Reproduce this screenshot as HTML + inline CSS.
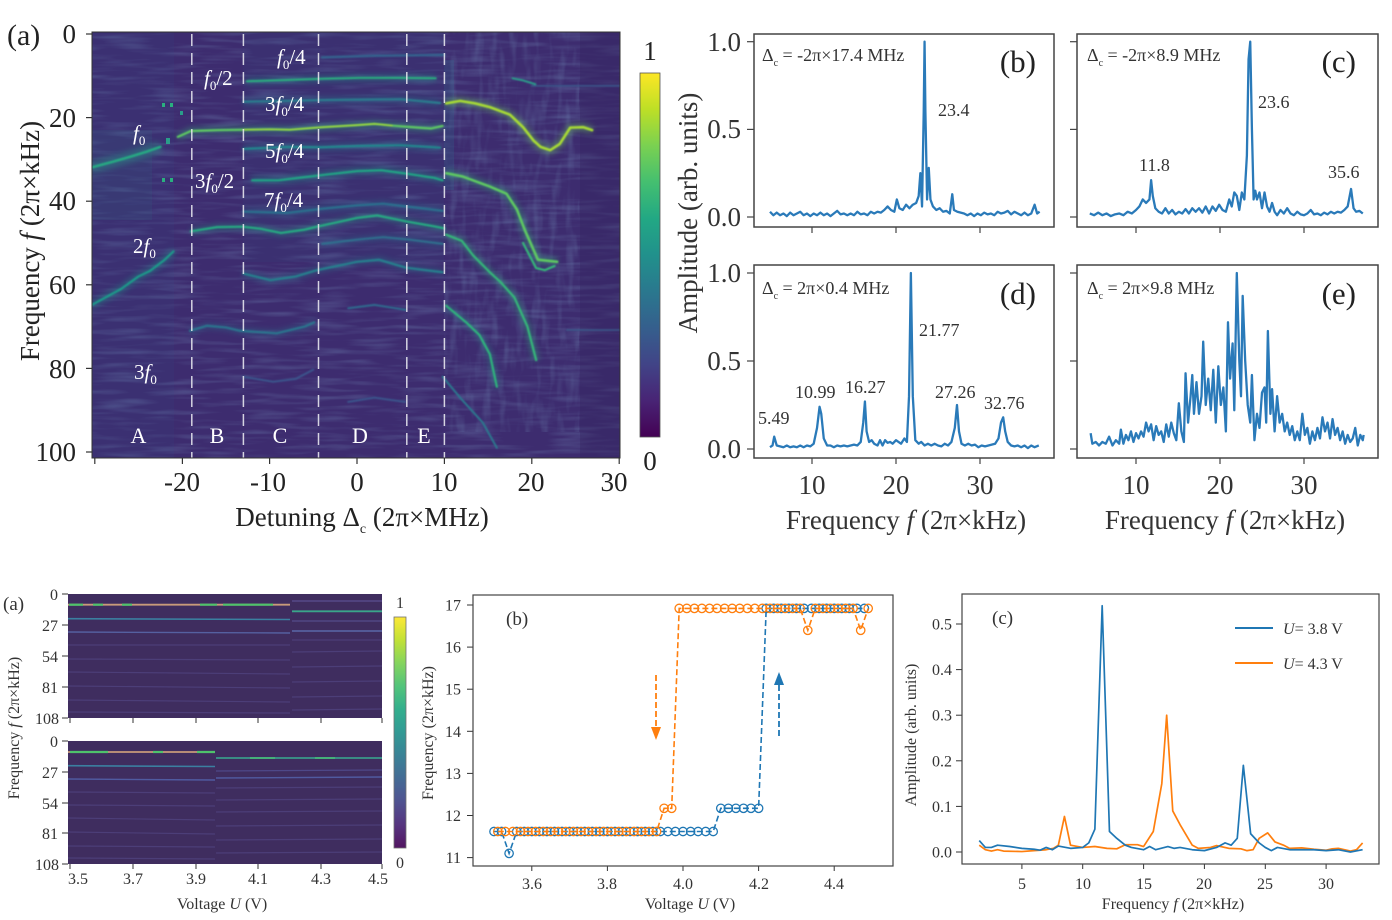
<!DOCTYPE html>
<html><head><meta charset="utf-8"><style>
html,body{margin:0;padding:0;background:#fff;}
svg{display:block;font-family:"Liberation Serif","DejaVu Serif",serif;}
</style></head><body>
<svg width="1392" height="920" viewBox="0 0 1392 920" xmlns="http://www.w3.org/2000/svg">
<defs>
<linearGradient id="vir" x1="0" y1="1" x2="0" y2="0">
<stop offset="0" stop-color="#440154"/><stop offset="0.1" stop-color="#482475"/><stop offset="0.2" stop-color="#414487"/><stop offset="0.3" stop-color="#355f8d"/><stop offset="0.4" stop-color="#2a788e"/><stop offset="0.5" stop-color="#21918c"/><stop offset="0.6" stop-color="#22a884"/><stop offset="0.7" stop-color="#44bf70"/><stop offset="0.8" stop-color="#7ad151"/><stop offset="0.9" stop-color="#bddf26"/><stop offset="1" stop-color="#fde725"/>
</linearGradient>
<clipPath id="hm"><rect x="92" y="32" width="528" height="426"/></clipPath>
<filter id="nz" x="0" y="0" width="1" height="1">
<feTurbulence type="fractalNoise" baseFrequency="0.02 0.2" numOctaves="2" seed="4"/>
<feColorMatrix type="matrix" values="0 0 0 0 0.2  0 0 0 0 0.33  0 0 0 0 0.55  1.6 0 0 0 -0.72"/>
</filter>
<filter id="nz2" x="0" y="0" width="1" height="1">
<feTurbulence type="fractalNoise" baseFrequency="0.12 0.03" numOctaves="2" seed="9"/>
<feColorMatrix type="matrix" values="0 0 0 0 0.2  0 0 0 0 0.36  0 0 0 0 0.56  1.6 0 0 0 -0.75"/>
</filter>
<filter id="bl1" x="-5%" y="-5%" width="110%" height="110%"><feGaussianBlur stdDeviation="0.7"/></filter>
<filter id="bl3" x="-5%" y="-5%" width="110%" height="110%"><feGaussianBlur stdDeviation="3"/></filter>
<marker id="mb" markerUnits="userSpaceOnUse" markerWidth="12" markerHeight="12" refX="6" refY="6" viewBox="0 0 12 12"><circle cx="6" cy="6" r="4.2" fill="none" stroke="#1f77b4" stroke-width="1.3"/></marker>
<marker id="mo" markerUnits="userSpaceOnUse" markerWidth="12" markerHeight="12" refX="6" refY="6" viewBox="0 0 12 12"><circle cx="6" cy="6" r="4.2" fill="none" stroke="#ff7f0e" stroke-width="1.3"/></marker>
<g id="curves">
<polyline id="c1" points="-30.5,32 -28,30.6 -26,29.4 -24,28.1 -22.5,27" vector-effect="non-scaling-stroke" fill="none"/>
<polyline id="c2" points="-20.5,24.6 -19,23.2 -16,23 -13,22.9 -10,22.8 -7.7,22.9 -4,22.3 0,21.8 2,21.5 4,21.9 7,22.4 8.5,22.6 9.8,22" vector-effect="non-scaling-stroke" fill="none"/>
<polyline id="c2b" points="-13,22.9 -10,22.8 -7.7,22.9 -4,22.3 0,21.8 2,21.5 4,21.9" vector-effect="non-scaling-stroke" fill="none"/>
<polyline id="c3" points="10.2,16.6 11.8,16 13.5,16.6 15.2,17.5 17.5,19.3 19,22.3 20.2,25.5 21,27 22.1,27.8 23.2,26.3 24.4,22.4 25.9,22.3 26.9,23" vector-effect="non-scaling-stroke" fill="none"/>
<polyline id="c4" points="-12.6,11.3 -8,11 -4,10.7 0.3,10.5 5.3,10.5 9,10.6" vector-effect="non-scaling-stroke" fill="none"/>
<polyline id="c4b" points="17.8,10.6 19,11.1 20.4,12" vector-effect="non-scaling-stroke" fill="none"/>
<polyline id="c5" points="-13,16.2 -8,16 -4,15.8 0,15.7 5,15.6 9.5,16.5" vector-effect="non-scaling-stroke" fill="none"/>
<polyline id="c6" points="-13,27.5 -8,27 -4,27.1 0,26.8 5,26.6 9.5,27.2" vector-effect="non-scaling-stroke" fill="none"/>
<polyline id="c7" points="-12,35 -9,35 -6.2,34.3 -3,33.5 0,32.8 2.8,32.6 6,33.5 8.8,34.4 9.8,35" vector-effect="non-scaling-stroke" fill="none"/>
<polyline id="c8" points="10.2,33.3 12.1,34.1 15.2,36.5 17.1,38.2 18.3,42 19.2,46.9 20.7,54 22.9,54.5" vector-effect="non-scaling-stroke" fill="none"/>
<polyline id="c9" points="-13,42.5 -8,42.8 -4,41.8 0,41 3,40.6 7,41.6 9.8,42.3" vector-effect="non-scaling-stroke" fill="none"/>
<polyline id="c10" points="-30.5,65 -27,61 -25,58 -23.7,56.7 -22,54 -21,52" vector-effect="non-scaling-stroke" fill="none"/>
<polyline id="c11" points="-19,47.2 -16,46.2 -13.1,46.1 -11,46.6 -8.7,47.6 -6,46.8 -4.4,46 0,44 2.3,43.4 5.8,44.9 8.8,46 10,46.5" vector-effect="non-scaling-stroke" fill="none"/>
<polyline id="c12" points="-4,50.2 0,49.2 3,48.6 6,49.2 9.8,50.2" vector-effect="non-scaling-stroke" fill="none"/>
<polyline id="c13" points="10.2,48 12,49.5 13.3,53 15.2,57 16.4,59.3 18,63 19.5,70 20.5,78" vector-effect="non-scaling-stroke" fill="none"/>
<polyline id="c14" points="19,50 20.5,56 21.5,56.5 22.6,55.5" vector-effect="non-scaling-stroke" fill="none"/>
<polyline id="c15" points="-13,57.3 -9.9,58.9 -7,58 -4.6,56.5 0,54.5 2.5,54 5.6,55.9 9.8,57" vector-effect="non-scaling-stroke" fill="none"/>
<polyline id="c16" points="-1,65.6 2,64.8 5.6,66" vector-effect="non-scaling-stroke" fill="none"/>
<polyline id="c17" points="-19.1,71 -17.2,69.8 -15,70.2 -13.4,71 -9.2,71.6 -6,70 -4.9,69" vector-effect="non-scaling-stroke" fill="none"/>
<polyline id="c18" points="-13,82 -9.6,83.2 -7,82.5 -5,80.3" vector-effect="non-scaling-stroke" fill="none"/>
<polyline id="c19" points="-1,88 2,87 5.5,88" vector-effect="non-scaling-stroke" fill="none"/>
<polyline id="c20" points="10.2,65 12.5,69 14,72 15.2,76.6 16,84.4" vector-effect="non-scaling-stroke" fill="none"/>
<polyline id="c21" points="9.8,82 11.8,87 14.4,93 16,99" vector-effect="non-scaling-stroke" fill="none"/>
<polyline id="c22" points="-4,5.6 2,5.2 10,5" vector-effect="non-scaling-stroke" fill="none"/>
<polyline id="c23" points="20,12.4 30.5,12.4" vector-effect="non-scaling-stroke" fill="none"/>
<polyline id="c24" points="24,70.8 30.5,70.8" vector-effect="non-scaling-stroke" fill="none"/>
</g>
</defs>
<rect width="1392" height="920" fill="#fff"/>

<!-- ================= TOP (a) HEATMAP ================= -->
<g clip-path="url(#hm)">
<rect x="92" y="32" width="528" height="426" fill="#3d2c6f"/>
<rect x="92" y="32" width="528" height="426" fill="#000" filter="url(#nz)" opacity="0.4"/>
<rect x="92" y="32" width="82" height="426" fill="#34508a" opacity="0.12"/>
<rect x="92" y="130" width="60" height="90" fill="#2a8a8a" opacity="0.1"/>
<rect x="243" y="32" width="201" height="230" fill="#2f5d8c" opacity="0.1"/>
<rect x="444" y="32" width="135" height="400" fill="#000" filter="url(#nz2)" opacity="0.35"/>
<rect x="580" y="32" width="40" height="426" fill="#35245f" opacity="0.35"/>
<rect x="444" y="60" width="10" height="130" fill="#2e6d8e" opacity="0.25"/>
<rect x="162" y="103" width="3" height="4" fill="#2ab07f"/>
<rect x="170" y="103" width="3" height="4" fill="#2ab07f"/>
<rect x="162" y="178" width="3" height="4" fill="#2ab07f"/>
<rect x="170" y="178" width="3" height="4" fill="#2ab07f"/>
<rect x="166" y="138" width="4" height="6" fill="#2a9d8a"/>
<rect x="180" y="111" width="3" height="4" fill="#2a9d8a"/>
<g filter="url(#bl3)" opacity="0.38">
<g transform="translate(357,34) scale(8.74,4.18)">
<use href="#c1" stroke="#2a9d8a" stroke-width="12"/>
<use href="#c2" stroke="#35b779" stroke-width="7"/>
<use href="#c3" stroke="#6ccd5a" stroke-width="8"/>
<use href="#c4" stroke="#1f9e89" stroke-width="6"/>
<use href="#c5" stroke="#2a788e" stroke-width="7"/>
<use href="#c6" stroke="#26828e" stroke-width="7"/>
<use href="#c7" stroke="#1f9e89" stroke-width="7"/>
<use href="#c8" stroke="#35b779" stroke-width="8"/>
<use href="#c9" stroke="#2c6f8e" stroke-width="7"/>
<use href="#c10" stroke="#1f9a8a" stroke-width="7"/>
<use href="#c11" stroke="#22a884" stroke-width="6"/>
<use href="#c12" stroke="#2d6f8e" stroke-width="6"/>
<use href="#c13" stroke="#2fb47c" stroke-width="7"/>
<use href="#c15" stroke="#27808e" stroke-width="6"/>
<use href="#c17" stroke="#2b748e" stroke-width="6"/>
<use href="#c20" stroke="#2a9d8a" stroke-width="6"/>
</g></g>
<g filter="url(#bl1)">
<g transform="translate(357,34) scale(8.74,4.18)" stroke-linejoin="round" stroke-linecap="round">
<use href="#c1" stroke="#26a883" stroke-width="2.6"/>
<use href="#c2" stroke="#5ec962" stroke-width="2.2"/>
<use href="#c2b" stroke="#a0da39" stroke-width="1.4"/>
<use href="#c3" stroke="#a8db34" stroke-width="2.6"/>
<use href="#c4" stroke="#29af7f" stroke-width="2"/>
<use href="#c4b" stroke="#2a9d8a" stroke-width="2"/>
<use href="#c5" stroke="#2a7b8e" stroke-width="2.2"/>
<use href="#c6" stroke="#24878e" stroke-width="2.2"/>
<use href="#c7" stroke="#22a585" stroke-width="2.2"/>
<use href="#c8" stroke="#5ec962" stroke-width="2.6"/>
<use href="#c9" stroke="#2c6f8e" stroke-width="2.2"/>
<use href="#c10" stroke="#1f9a8a" stroke-width="2.2"/>
<use href="#c11" stroke="#25ab82" stroke-width="2.2"/>
<use href="#c12" stroke="#2d6f8e" stroke-width="2"/>
<use href="#c13" stroke="#35b779" stroke-width="2.2"/>
<use href="#c14" stroke="#35b779" stroke-width="2.2"/>
<use href="#c15" stroke="#27808e" stroke-width="2.2"/>
<use href="#c16" stroke="#2e6b8e" stroke-width="2"/>
<use href="#c17" stroke="#2b748e" stroke-width="2.2"/>
<use href="#c18" stroke="#3a548c" stroke-width="2"/>
<use href="#c19" stroke="#3a548c" stroke-width="2"/>
<use href="#c20" stroke="#2fb47c" stroke-width="2.2"/>
<use href="#c21" stroke="#2a788e" stroke-width="2"/>
<use href="#c22" stroke="#34618d" stroke-width="2.5"/>
<use href="#c23" stroke="#3b5a8c" stroke-width="1.5"/>
<use href="#c24" stroke="#3b5a8c" stroke-width="1.5"/>
</g></g>
<g stroke="#e6e6ee" stroke-width="1.5" stroke-dasharray="12 7" opacity="0.9">
<line x1="191.8" y1="34" x2="191.8" y2="458"/>
<line x1="243.4" y1="34" x2="243.4" y2="458"/>
<line x1="318.5" y1="34" x2="318.5" y2="458"/>
<line x1="406.8" y1="34" x2="406.8" y2="458"/>
<line x1="444.4" y1="34" x2="444.4" y2="458"/>
</g>
</g>
<rect x="92" y="32" width="528" height="426" fill="none" stroke="#333" stroke-width="1"/>
<!-- heatmap labels -->
<g fill="#fff" font-size="21">
<text x="277" y="64"><tspan font-style="italic">f</tspan><tspan font-size="13" dy="5">0</tspan><tspan dy="-5">/4</tspan></text>
<text x="204" y="85"><tspan font-style="italic">f</tspan><tspan font-size="13" dy="5">0</tspan><tspan dy="-5">/2</tspan></text>
<text x="265" y="111">3<tspan font-style="italic">f</tspan><tspan font-size="13" dy="5">0</tspan><tspan dy="-5">/4</tspan></text>
<text x="133" y="140"><tspan font-style="italic">f</tspan><tspan font-size="13" dy="5">0</tspan></text>
<text x="265" y="158">5<tspan font-style="italic">f</tspan><tspan font-size="13" dy="5">0</tspan><tspan dy="-5">/4</tspan></text>
<text x="195" y="188">3<tspan font-style="italic">f</tspan><tspan font-size="13" dy="5">0</tspan><tspan dy="-5">/2</tspan></text>
<text x="264" y="207">7<tspan font-style="italic">f</tspan><tspan font-size="13" dy="5">0</tspan><tspan dy="-5">/4</tspan></text>
<text x="133" y="253">2<tspan font-style="italic">f</tspan><tspan font-size="13" dy="5">0</tspan></text>
<text x="134" y="379">3<tspan font-style="italic">f</tspan><tspan font-size="13" dy="5">0</tspan></text>
</g>
<g fill="#fff" font-size="22" text-anchor="middle">
<text x="138.5" y="443">A</text><text x="217" y="443">B</text><text x="280" y="443">C</text><text x="360" y="443">D</text><text x="424" y="443">E</text>
</g>
<!-- axes text top-left -->
<g fill="#222" font-size="27">
<text x="7" y="45" font-size="30">(a)</text>
<g text-anchor="end">
<text x="76" y="43">0</text><text x="76" y="127">20</text><text x="76" y="210">40</text><text x="76" y="294">60</text><text x="76" y="378">80</text><text x="76" y="461">100</text>
</g>
<g text-anchor="middle">
<text x="182" y="491">-20</text><text x="268" y="491">-10</text><text x="357" y="491">0</text><text x="444" y="491">10</text><text x="531" y="491">20</text><text x="614" y="491">30</text>
<text x="362" y="526">Detuning Δ<tspan font-size="14" dy="7">c</tspan><tspan dy="-7"> (2π×MHz)</tspan></text>
<text transform="translate(39,241) rotate(-90)">Frequency <tspan font-style="italic">f</tspan> (2π×kHz)</text>
<text x="650" y="60">1</text><text x="650" y="470">0</text>
</g>
</g>
<g stroke="#333" stroke-width="1.2">
<line x1="86" y1="34" x2="92" y2="34"/><line x1="86" y1="117.6" x2="92" y2="117.6"/><line x1="86" y1="201.2" x2="92" y2="201.2"/><line x1="86" y1="284.8" x2="92" y2="284.8"/><line x1="86" y1="368.4" x2="92" y2="368.4"/><line x1="86" y1="452" x2="92" y2="452"/>
<line x1="94.8" y1="458" x2="94.8" y2="464"/><line x1="182.4" y1="458" x2="182.4" y2="464"/><line x1="269.6" y1="458" x2="269.6" y2="464"/><line x1="357" y1="458" x2="357" y2="464"/><line x1="444.4" y1="458" x2="444.4" y2="464"/><line x1="531.8" y1="458" x2="531.8" y2="464"/><line x1="619.2" y1="458" x2="619.2" y2="464"/>
</g>
<rect x="640" y="73" width="20" height="364" fill="url(#vir)" stroke="#555" stroke-width="0.8"/>

<!-- ================= TOP RIGHT (b)-(e) ================= -->
<g fill="#333" font-size="27">
<text transform="translate(697,213) rotate(-90)" text-anchor="middle">Amplitude (arb. units)</text>
<g text-anchor="end">
<text x="741" y="51">1.0</text><text x="741" y="138">0.5</text><text x="741" y="226">0.0</text>
<text x="741" y="282">1.0</text><text x="741" y="370">0.5</text><text x="741" y="458">0.0</text>
</g>
<g text-anchor="middle">
<text x="812" y="494">10</text><text x="896" y="494">20</text><text x="980" y="494">30</text>
<text x="1136" y="494">10</text><text x="1220" y="494">20</text><text x="1304" y="494">30</text>
<text x="906" y="529">Frequency <tspan font-style="italic">f</tspan> (2π×kHz)</text>
<text x="1225" y="529">Frequency <tspan font-style="italic">f</tspan> (2π×kHz)</text>
</g>
</g>
<g stroke="#444" stroke-width="1.2">
<line x1="747" y1="41.7" x2="754" y2="41.7"/><line x1="747" y1="129.4" x2="754" y2="129.4"/><line x1="747" y1="217" x2="754" y2="217"/>
<line x1="747" y1="273" x2="754" y2="273"/><line x1="747" y1="361" x2="754" y2="361"/><line x1="747" y1="449" x2="754" y2="449"/>
<line x1="1070" y1="41.7" x2="1077" y2="41.7"/><line x1="1070" y1="129.4" x2="1077" y2="129.4"/><line x1="1070" y1="217" x2="1077" y2="217"/>
<line x1="1070" y1="273" x2="1077" y2="273"/><line x1="1070" y1="361" x2="1077" y2="361"/><line x1="1070" y1="449" x2="1077" y2="449"/>
<line x1="812" y1="227" x2="812" y2="233"/><line x1="896" y1="227" x2="896" y2="233"/><line x1="980" y1="227" x2="980" y2="233"/>
<line x1="1136" y1="227" x2="1136" y2="233"/><line x1="1220" y1="227" x2="1220" y2="233"/><line x1="1304" y1="227" x2="1304" y2="233"/>
<line x1="812" y1="458" x2="812" y2="464"/><line x1="896" y1="458" x2="896" y2="464"/><line x1="980" y1="458" x2="980" y2="464"/>
<line x1="1136" y1="458" x2="1136" y2="464"/><line x1="1220" y1="458" x2="1220" y2="464"/><line x1="1304" y1="458" x2="1304" y2="464"/>
</g>
<g fill="none" stroke="#2a7ab9" stroke-width="2.3" stroke-linejoin="round">
<g transform="translate(728,217) scale(8.4,-175.3)">
<polyline vector-effect="non-scaling-stroke" points="5,0.03 5.4,0.01 5.8,0.025 6.2,0.01 6.6,0.02 7,0.005 7.4,0.025 7.8,0.01 8.2,0.02 8.6,0.03 9,0.01 9.4,0.02 9.8,0.005 10.2,0.02 10.6,0.01 11,0.025 11.4,0.01 11.8,0.02 12.2,0.005 12.6,0.02 13,0.035 13.4,0.015 13.8,0.02 14.2,0.01 14.6,0.02 15,0.01 15.4,0.03 15.8,0.015 16.2,0.02 16.6,0.01 17,0.03 17.4,0.02 17.8,0.03 18.2,0.025 18.6,0.04 19,0.06 19.4,0.04 19.8,0.03 20.1,0.1 20.4,0.05 20.8,0.04 21.2,0.07 21.6,0.05 22,0.07 22.4,0.08 22.7,0.12 22.9,0.25 23.1,0.06 23.3,0.6 23.4,1.0 23.5,0.6 23.7,0.1 23.9,0.28 24.1,0.1 24.4,0.06 24.8,0.04 25.2,0.05 25.6,0.03 26,0.035 26.4,0.02 26.7,0.13 26.9,0.04 27.3,0.03 27.7,0.025 28.1,0.02 28.5,0.01 28.9,0.02 29.3,0.005 29.7,0.02 30.1,0.01 30.5,0.025 30.9,0.015 31.3,0.02 31.7,0.01 32.1,0.03 32.5,0.02 32.9,0.025 33.3,0.035 33.7,0.015 34.1,0.03 34.5,0.02 34.9,0.01 35.3,0.025 35.7,0.01 36.1,0.02 36.5,0.07 36.8,0.02 37.1,0.03"/>
</g>
<g transform="translate(1052,217) scale(8.4,-175.3)">
<polyline vector-effect="non-scaling-stroke" points="4.5,0.02 5,0.01 5.5,0.025 6,0.01 6.5,0.02 7,0.005 7.5,0.015 8,0.02 8.5,0.01 9,0.03 9.5,0.02 10,0.04 10.4,0.06 10.8,0.1 11.2,0.08 11.6,0.1 11.8,0.21 12,0.12 12.3,0.05 12.7,0.03 13.1,0.02 13.5,0.05 13.9,0.02 14.3,0.04 14.7,0.015 15.1,0.03 15.5,0.02 15.9,0.045 16.3,0.02 16.7,0.05 17.1,0.03 17.5,0.05 17.9,0.025 18.3,0.06 18.7,0.02 19.1,0.06 19.5,0.035 19.9,0.07 20.3,0.04 20.7,0.03 21.1,0.1 21.4,0.06 21.7,0.14 22,0.12 22.3,0.04 22.6,0.14 22.9,0.1 23.2,0.35 23.4,0.9 23.6,1.0 23.8,0.5 24,0.1 24.2,0.15 24.4,0.1 24.7,0.14 25,0.05 25.3,0.14 25.6,0.06 25.9,0.03 26.2,0.08 26.5,0.03 26.8,0.01 27.2,0.04 27.6,0.02 28,0.05 28.4,0.02 28.8,0.01 29.2,0.03 29.6,0.015 30,0.01 30.4,0.02 30.8,0.04 31.2,0.015 31.6,0.02 32,0.01 32.4,0.025 32.8,0.015 33.2,0.03 33.6,0.02 34,0.03 34.4,0.025 34.8,0.04 35.2,0.06 35.6,0.16 35.9,0.05 36.2,0.03 36.6,0.035 37,0.02"/>
</g>
<g transform="translate(728,449) scale(8.4,-176)">
<polyline vector-effect="non-scaling-stroke" points="5,0.01 5.3,0.02 5.5,0.07 5.8,0.02 6.2,0.015 6.6,0.01 7,0.02 7.4,0.01 7.8,0.015 8.2,0.01 8.6,0.02 9,0.01 9.4,0.02 9.8,0.015 10.2,0.03 10.6,0.12 10.9,0.24 11.1,0.2 11.4,0.06 11.8,0.02 12.2,0.02 12.6,0.01 13,0.02 13.4,0.015 13.8,0.02 14.2,0.015 14.6,0.02 15,0.025 15.4,0.02 15.8,0.04 16.1,0.15 16.3,0.27 16.5,0.1 16.8,0.04 17.1,0.05 17.4,0.03 17.8,0.02 18.1,0.05 18.4,0.02 18.7,0.05 19,0.035 19.3,0.04 19.6,0.03 20,0.05 20.3,0.04 20.6,0.03 21,0.06 21.3,0.04 21.55,0.3 21.77,1.0 22,0.3 22.3,0.05 22.7,0.03 23,0.04 23.4,0.02 23.8,0.03 24.2,0.02 24.6,0.03 25,0.02 25.4,0.015 25.8,0.03 26.2,0.02 26.6,0.04 27,0.12 27.26,0.25 27.5,0.1 27.8,0.03 28.2,0.02 28.6,0.03 29,0.02 29.4,0.025 29.8,0.01 30.2,0.02 30.6,0.015 31,0.02 31.4,0.025 31.8,0.03 32.2,0.06 32.5,0.15 32.76,0.18 33,0.1 33.3,0.04 33.7,0.02 34.1,0.015 34.5,0.02 34.9,0.01 35.3,0.02 35.7,0.005 36.1,0.02 36.5,0.01 37,0.02"/>
</g>
<g transform="translate(1052,449) scale(8.4,-176)">
<polyline vector-effect="non-scaling-stroke" points="4.6,0.09 4.8,0.03 5.2,0.04 5.6,0.02 6,0.04 6.4,0.03 6.8,0.07 7.2,0.02 7.6,0.05 8,0.03 8.2,0.11 8.5,0.03 8.8,0.08 9.1,0.05 9.4,0.1 9.7,0.04 10,0.09 10.3,0.06 10.6,0.1 10.9,0.07 11.2,0.15 11.5,0.1 11.8,0.14 12.1,0.05 12.4,0.13 12.7,0.08 13,0.1 13.3,0.04 13.6,0.14 13.9,0.07 14.2,0.15 14.5,0.09 14.8,0.05 15.1,0.26 15.4,0.1 15.7,0.04 15.9,0.43 16.2,0.15 16.5,0.3 16.7,0.42 16.9,0.2 17.2,0.38 17.5,0.2 17.8,0.3 18,0.61 18.3,0.25 18.6,0.4 18.9,0.22 19.2,0.45 19.5,0.15 19.8,0.47 20.1,0.25 20.4,0.35 20.7,0.1 20.95,0.72 21.2,0.4 21.5,0.6 21.7,0.22 22,1.0 22.3,0.5 22.5,0.3 22.7,0.87 23,0.5 23.3,0.25 23.6,0.15 23.8,0.42 24.1,0.05 24.4,0.2 24.7,0.12 25,0.32 25.3,0.35 25.5,0.15 25.7,0.67 26,0.2 26.2,0.34 26.5,0.1 26.8,0.3 27.1,0.15 27.4,0.2 27.7,0.1 28,0.15 28.3,0.08 28.6,0.13 28.9,0.05 29.2,0.1 29.5,0.05 29.8,0.2 30.1,0.08 30.4,0.12 30.7,0.03 31,0.1 31.3,0.05 31.6,0.12 31.9,0.06 32.2,0.18 32.5,0.1 32.8,0.15 33.1,0.06 33.4,0.17 33.7,0.08 34,0.12 34.3,0.05 34.6,0.1 34.9,0.03 35.2,0.08 35.5,0.04 35.8,0.06 36.1,0.12 36.4,0.02 36.7,0.08 37,0.05 37.1,0.08"/>
</g>
</g>
<g fill="none" stroke="#444" stroke-width="1.5">
<rect x="754" y="34" width="300" height="193"/><rect x="1077" y="34" width="301" height="193"/>
<rect x="754" y="265" width="300" height="193"/><rect x="1077" y="265" width="301" height="193"/>
</g>
<g fill="#333" font-size="18">
<text x="762" y="61">Δ<tspan font-size="10" dy="5">c</tspan><tspan dy="-5"> = -2π×17.4 MHz</tspan></text>
<text x="1087" y="61">Δ<tspan font-size="10" dy="5">c</tspan><tspan dy="-5"> = -2π×8.9 MHz</tspan></text>
<text x="762" y="294">Δ<tspan font-size="10" dy="5">c</tspan><tspan dy="-5"> = 2π×0.4 MHz</tspan></text>
<text x="1087" y="294">Δ<tspan font-size="10" dy="5">c</tspan><tspan dy="-5"> = 2π×9.8 MHz</tspan></text>
<text x="938" y="116">23.4</text>
<text x="1258" y="108">23.6</text><text x="1139" y="171">11.8</text><text x="1328" y="178">35.6</text>
<text x="919" y="336">21.77</text><text x="795" y="398">10.99</text><text x="845" y="393">16.27</text><text x="758" y="424">5.49</text><text x="935" y="398">27.26</text><text x="984" y="409">32.76</text>
</g>
<g fill="#222" font-size="31" text-anchor="end">
<text x="1036" y="72">(b)</text><text x="1356" y="72">(c)</text><text x="1036" y="304">(d)</text><text x="1356" y="304">(e)</text>
</g>

<!-- ================= BOTTOM LEFT (a) ================= -->
<rect x="68" y="594" width="314" height="124" fill="#3f2d5f"/>
<rect x="68" y="741" width="314" height="123" fill="#3f2d5f"/>
<g stroke-width="1.2" fill="none">
<g stroke="#4c3e78">
<line x1="68" y1="645" x2="290" y2="645"/><line x1="68" y1="659" x2="290" y2="660"/><line x1="68" y1="672" x2="290" y2="674"/><line x1="68" y1="686" x2="290" y2="688"/><line x1="68" y1="700" x2="290" y2="702"/><line x1="68" y1="712" x2="290" y2="713"/>
<line x1="292" y1="640" x2="382" y2="640"/><line x1="292" y1="652" x2="382" y2="651"/><line x1="292" y1="667" x2="382" y2="666"/><line x1="292" y1="682" x2="382" y2="681"/><line x1="292" y1="697" x2="382" y2="696"/><line x1="292" y1="710" x2="382" y2="709"/>
<line x1="68" y1="792" x2="215" y2="793"/><line x1="68" y1="805" x2="215" y2="806"/><line x1="68" y1="818" x2="215" y2="820"/><line x1="68" y1="832" x2="215" y2="834"/><line x1="68" y1="846" x2="215" y2="847"/><line x1="68" y1="858" x2="215" y2="859"/>
<line x1="216" y1="788" x2="382" y2="787"/><line x1="216" y1="800" x2="382" y2="799"/><line x1="216" y1="812" x2="382" y2="811"/><line x1="216" y1="826" x2="382" y2="825"/><line x1="216" y1="840" x2="382" y2="839"/><line x1="216" y1="853" x2="382" y2="852"/>
</g>
<line x1="68" y1="632" x2="290" y2="633" stroke="#5560a0" stroke-width="1.4"/>
<line x1="292" y1="631" x2="382" y2="631" stroke="#5a68a8" stroke-width="1.4"/>
<line x1="68" y1="618.7" x2="290" y2="619.5" stroke="#3b7fa0" stroke-width="1.6"/>
<line x1="292" y1="601" x2="382" y2="601" stroke="#5a5090" stroke-width="1.2"/>
<line x1="292" y1="621" x2="382" y2="621" stroke="#554c8a" stroke-width="1.2"/>
<line x1="68" y1="604.7" x2="290" y2="604.7" stroke="#c89a7a" stroke-width="1.8"/>
<g stroke="#4ec36b" stroke-width="2.2">
<line x1="69" y1="604.7" x2="83" y2="604.7"/><line x1="93" y1="604.7" x2="103" y2="604.7"/><line x1="122" y1="604.7" x2="132" y2="604.7"/><line x1="200" y1="604.7" x2="217" y2="604.7"/><line x1="223" y1="604.7" x2="273" y2="604.7"/>
</g>
<line x1="292" y1="611.3" x2="382" y2="611.3" stroke="#3aa58a" stroke-width="1.8"/>
<line x1="68" y1="779" x2="215" y2="780" stroke="#505aa0" stroke-width="1.4"/>
<line x1="216" y1="778" x2="382" y2="777" stroke="#505aa0" stroke-width="1.4"/>
<line x1="68" y1="765.7" x2="215" y2="766.5" stroke="#3b7fa0" stroke-width="1.6"/>
<line x1="216" y1="771" x2="382" y2="770" stroke="#4e4888" stroke-width="1.2"/>
<line x1="68" y1="752" x2="215" y2="752" stroke="#c89a7a" stroke-width="1.8"/>
<g stroke="#4ec36b" stroke-width="2.2">
<line x1="70" y1="752" x2="108" y2="752"/><line x1="153" y1="752" x2="163" y2="752"/><line x1="197" y1="752" x2="215" y2="752"/>
</g>
<line x1="216" y1="758" x2="382" y2="758" stroke="#3a9a8a" stroke-width="1.8"/>
<line x1="250" y1="758" x2="275" y2="758" stroke="#45b07a" stroke-width="2"/>
<line x1="315" y1="758" x2="335" y2="758" stroke="#45b07a" stroke-width="2"/>
</g>
<g stroke="#333" stroke-width="1">
<line x1="62" y1="594" x2="68" y2="594"/><line x1="62" y1="625" x2="68" y2="625"/><line x1="62" y1="656" x2="68" y2="656"/><line x1="62" y1="687" x2="68" y2="687"/><line x1="62" y1="718" x2="68" y2="718"/>
<line x1="62" y1="741" x2="68" y2="741"/><line x1="62" y1="772" x2="68" y2="772"/><line x1="62" y1="803" x2="68" y2="803"/><line x1="62" y1="833" x2="68" y2="833"/><line x1="62" y1="864" x2="68" y2="864"/>
<line x1="70" y1="718" x2="70" y2="723"/><line x1="133" y1="718" x2="133" y2="723"/><line x1="196" y1="718" x2="196" y2="723"/><line x1="258" y1="718" x2="258" y2="723"/><line x1="321" y1="718" x2="321" y2="723"/><line x1="382" y1="718" x2="382" y2="723"/>
<line x1="70" y1="864" x2="70" y2="869"/><line x1="133" y1="864" x2="133" y2="869"/><line x1="196" y1="864" x2="196" y2="869"/><line x1="258" y1="864" x2="258" y2="869"/><line x1="321" y1="864" x2="321" y2="869"/><line x1="382" y1="864" x2="382" y2="869"/>
</g>
<rect x="394" y="617" width="12" height="231" fill="url(#vir)" stroke="#666" stroke-width="0.8" opacity="0.92"/>
<g fill="#333" font-size="16">
<text x="3" y="610" font-size="19">(a)</text>
<g text-anchor="end">
<text x="58" y="600">0</text><text x="58" y="631">27</text><text x="58" y="662">54</text><text x="58" y="693">81</text><text x="59" y="724">108</text>
<text x="58" y="747">0</text><text x="58" y="778">27</text><text x="58" y="809">54</text><text x="58" y="839">81</text><text x="59" y="870">108</text>
</g>
<g text-anchor="middle">
<text x="78" y="884">3.5</text><text x="133" y="884">3.7</text><text x="196" y="884">3.9</text><text x="258" y="884">4.1</text><text x="321" y="884">4.3</text><text x="378" y="884">4.5</text>
<text x="222" y="909">Voltage <tspan font-style="italic">U</tspan> (V)</text>
<text transform="translate(19,728) rotate(-90)">Frequency <tspan font-style="italic">f</tspan> (2π×kHz)</text>
<text x="400" y="608">1</text><text x="400" y="868">0</text>
</g>
</g>

<!-- ================= BOTTOM MIDDLE (b) ================= -->
<g fill="#333" font-size="16">
<g text-anchor="end">
<text x="461" y="610.5">17</text><text x="461" y="652.6">16</text><text x="461" y="694.7">15</text><text x="461" y="736.8">14</text><text x="461" y="778.9">13</text><text x="461" y="821">12</text><text x="461" y="863.1">11</text>
</g>
<g text-anchor="middle">
<text x="532" y="889">3.6</text><text x="607" y="889">3.8</text><text x="683" y="889">4.0</text><text x="759" y="889">4.2</text><text x="834" y="889">4.4</text>
<text x="690" y="909">Voltage <tspan font-style="italic">U</tspan> (V)</text>
<text transform="translate(433,733) rotate(-90)">Frequency (2π×kHz)</text>
</g>
<text x="506" y="625" font-size="19">(b)</text>
</g>
<g stroke="#333" stroke-width="1">
<line x1="467" y1="605" x2="473" y2="605"/><line x1="467" y1="647.1" x2="473" y2="647.1"/><line x1="467" y1="689.2" x2="473" y2="689.2"/><line x1="467" y1="731.3" x2="473" y2="731.3"/><line x1="467" y1="773.4" x2="473" y2="773.4"/><line x1="467" y1="815.5" x2="473" y2="815.5"/><line x1="467" y1="857.6" x2="473" y2="857.6"/>
<line x1="531.8" y1="866" x2="531.8" y2="871"/><line x1="607.4" y1="866" x2="607.4" y2="871"/><line x1="683" y1="866" x2="683" y2="871"/><line x1="758.6" y1="866" x2="758.6" y2="871"/><line x1="834.2" y1="866" x2="834.2" y2="871"/>
</g>
<polyline fill="none" stroke="#1f77b4" stroke-width="1.6" stroke-dasharray="6 3" marker-start="url(#mb)" marker-mid="url(#mb)" marker-end="url(#mb)" points="494,831.5 501.6,831.5 509.1,853.4 516.7,831.5 524.2,831.5 531.8,831.5 539.4,831.5 546.9,831.5 554.5,831.5 562,831.5 569.6,831.5 577.2,831.5 584.7,831.5 592.3,831.5 599.8,831.5 607.4,831.5 615,831.5 622.5,831.5 630.1,831.5 637.6,831.5 645.2,831.5 652.8,831.5 660.3,831.5 667.9,831.5 675.4,831.5 683,831.5 690.6,831.5 698.1,831.5 705.7,831.5 713.2,831.5 720.8,808.3 728.4,808.3 735.9,808.3 743.5,808.3 751,808.3 758.6,808.3 766.2,608.4 773.7,608.4 781.3,608.4 788.8,608.4 796.4,608.4 804,608.4 811.5,608.4 819.1,608.4 826.6,608.4 834.2,608.4 841.8,608.4 849.3,608.4 856.9,608.4 864.4,608.4"/>
<polyline fill="none" stroke="#ff7f0e" stroke-width="1.6" stroke-dasharray="6 3" marker-start="url(#mo)" marker-mid="url(#mo)" marker-end="url(#mo)" points="497.8,831.5 505.3,831.5 512.9,831.5 520.5,831.5 528,831.5 535.6,831.5 543.2,831.5 550.7,831.5 558.3,831.5 565.8,831.5 573.4,831.5 581,831.5 588.5,831.5 596.1,831.5 603.6,831.5 611.2,831.5 618.8,831.5 626.3,831.5 633.9,831.5 641.4,831.5 649,831.5 656.6,831.5 664.1,808.3 671.7,808.3 679.2,608.4 686.8,608.4 694.4,608.4 701.9,608.4 709.5,608.4 717,608.4 724.6,608.4 732.2,608.4 739.7,608.4 747.3,608.4 754.8,608.4 762.4,608.4 770,608.4 777.5,608.4 785.1,608.4 792.6,608.4 800.2,608.4 807.8,630.3 815.3,608.4 822.9,608.4 830.4,608.4 838,608.4 845.6,608.4 853.1,608.4 860.7,630.3 868.2,608.4"/>
<line x1="656" y1="675" x2="656" y2="728" stroke="#ff7f0e" stroke-width="1.8" stroke-dasharray="6 3"/>
<polygon points="651,727 661,727 656,740" fill="#ff7f0e"/>
<line x1="779" y1="736" x2="779" y2="684" stroke="#1f77b4" stroke-width="1.8" stroke-dasharray="6 3"/>
<polygon points="774,685 784,685 779,672" fill="#1f77b4"/>
<rect x="473" y="595" width="420" height="271" fill="none" stroke="#444" stroke-width="1.2"/>

<!-- ================= BOTTOM RIGHT (c) ================= -->
<g fill="#333" font-size="16">
<g text-anchor="end">
<text x="952" y="629.5">0.5</text><text x="952" y="675">0.4</text><text x="952" y="720.7">0.3</text><text x="952" y="766.3">0.2</text><text x="952" y="811.9">0.1</text><text x="952" y="857.5">0.0</text>
</g>
<g text-anchor="middle">
<text x="1022" y="889">5</text><text x="1083" y="889">10</text><text x="1144" y="889">15</text><text x="1204" y="889">20</text><text x="1265" y="889">25</text><text x="1326" y="889">30</text>
<text x="1173" y="909">Frequency <tspan font-style="italic">f</tspan> (2π×kHz)</text>
<text transform="translate(916,735) rotate(-90)">Amplitude (arb. units)</text>
</g>
<text x="992" y="624" font-size="19">(c)</text>
<text x="1283" y="634"><tspan font-style="italic">U</tspan>= 3.8 V</text>
<text x="1283" y="669"><tspan font-style="italic">U</tspan>= 4.3 V</text>
</g>
<line x1="1235" y1="628" x2="1273" y2="628" stroke="#1f77b4" stroke-width="2"/>
<line x1="1235" y1="663" x2="1273" y2="663" stroke="#ff7f0e" stroke-width="2"/>
<g stroke="#333" stroke-width="1">
<line x1="956" y1="624" x2="962" y2="624"/><line x1="956" y1="669.6" x2="962" y2="669.6"/><line x1="956" y1="715.2" x2="962" y2="715.2"/><line x1="956" y1="760.8" x2="962" y2="760.8"/><line x1="956" y1="806.4" x2="962" y2="806.4"/><line x1="956" y1="852" x2="962" y2="852"/>
<line x1="1021.9" y1="864" x2="1021.9" y2="869"/><line x1="1082.7" y1="864" x2="1082.7" y2="869"/><line x1="1143.6" y1="864" x2="1143.6" y2="869"/><line x1="1204.4" y1="864" x2="1204.4" y2="869"/><line x1="1265.3" y1="864" x2="1265.3" y2="869"/><line x1="1326.1" y1="864" x2="1326.1" y2="869"/>
</g>
<g fill="none" stroke-width="1.7" stroke-linejoin="round">
<g transform="translate(961,852) scale(12.17,-456)">
<polyline vector-effect="non-scaling-stroke" stroke="#ff7f0e" points="1.5,0.015 2,0.005 2.5,0.002 3,0.005 3.5,0.002 5,0.001 6,0.003 7,0.005 7.6,0.008 8,0.015 8.5,0.078 9,0.015 10,0.01 11,0.012 12,0.008 12.8,0.007 13.5,0.016 14.5,0.016 15,0.012 15.8,0.045 16.5,0.15 16.9,0.3 17.4,0.09 18,0.06 19,0.015 19.5,0.008 20.5,0.01 21,0.014 22,0.008 23,0.007 23.5,0.003 24,0.005 24.5,0.03 25.2,0.042 25.8,0.022 26.5,0.015 27,0.008 28,0.009 29,0.006 30,0.004 30.5,0.007 31,0.008 32,0.002 32.5,0.005 33,0.02"/>
<polyline vector-effect="non-scaling-stroke" stroke="#1f77b4" points="1.5,0.025 2,0.01 2.5,0.01 3,0.015 4,0.012 5,0.008 6,0.006 6.5,0.004 7,0.01 7.5,0.005 8,0.013 9,0.008 10,0.01 10.5,0.02 11,0.05 11.6,0.54 12.2,0.045 12.8,0.03 13.5,0.015 14,0.01 15,0.005 15.5,0.012 16,0.005 17,0.012 17.5,0.008 18,0.01 19,0.005 20,0.003 21,0.01 21.7,0.02 22.2,0.015 22.7,0.03 23.2,0.19 23.8,0.04 24.5,0.02 25,0.01 25.5,0.003 26,0.01 27,0.005 28,0.005 29,0.005 30,0.003 31,0.005 32,0.0 33,0.005"/>
</g>
</g>
<rect x="962" y="594" width="417" height="270" fill="none" stroke="#444" stroke-width="1.2"/>
</svg>
</body></html>
